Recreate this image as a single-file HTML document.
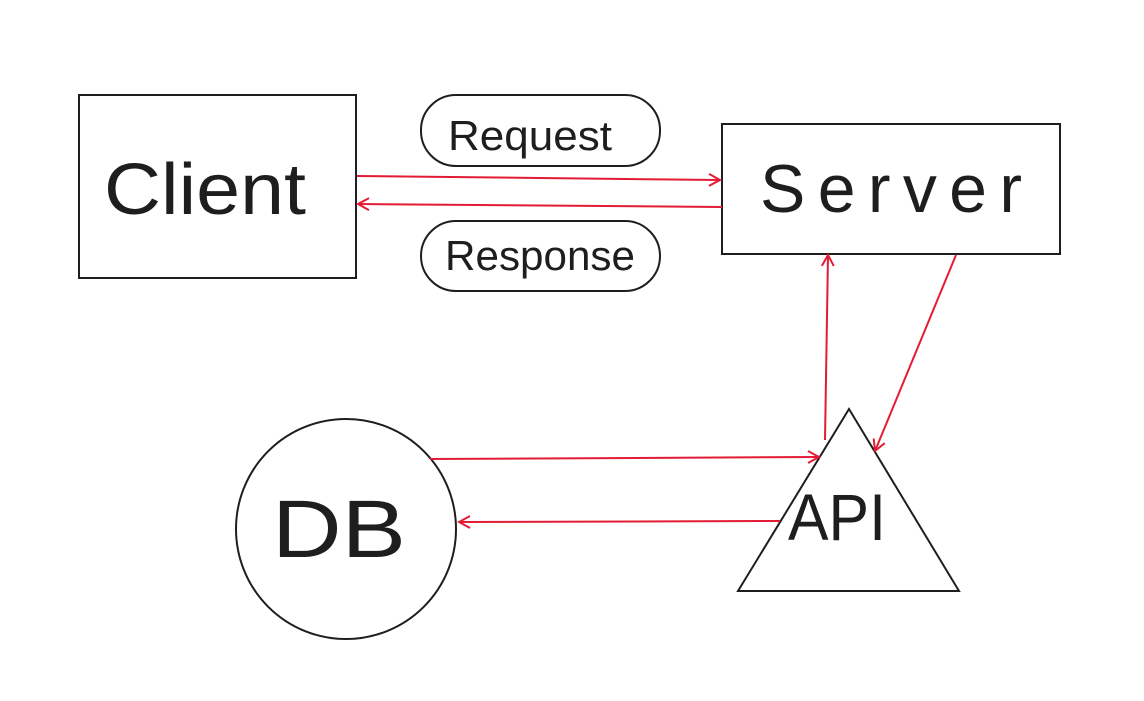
<!DOCTYPE html>
<html><head><style>html,body{margin:0;padding:0;background:#fff}svg{display:block}</style></head>
<body>
<svg width="1144" height="701" viewBox="0 0 1144 701" xmlns="http://www.w3.org/2000/svg">
<defs>
<marker id="a" markerWidth="14" markerHeight="14" refX="12" refY="7" orient="auto" markerUnits="userSpaceOnUse">
<path d="M1,1 L12,7 L1,13" fill="none" stroke="#e41b35" stroke-width="2"/>
</marker>
</defs>
<g fill="none" stroke="#1e1e1e" stroke-width="2">
<rect x="79" y="95" width="277" height="183"/>
<rect x="421" y="95" width="239" height="71" rx="35"/>
<rect x="421" y="221" width="239" height="70" rx="35"/>
<rect x="722" y="124" width="338" height="130"/>
<circle cx="346" cy="529" r="110"/>
<path d="M849,409 L738,591 L959,591 Z"/>
</g>
<g stroke="#e41b35" stroke-width="2" fill="none" marker-end="url(#a)">
<line x1="357" y1="176" x2="720" y2="180"/>
<line x1="722" y1="207" x2="358" y2="204"/>
<line x1="825" y1="440" x2="828" y2="255"/>
<line x1="956" y1="255" x2="875" y2="451"/>
<line x1="430" y1="459" x2="819" y2="457"/>
<line x1="780" y1="521" x2="459" y2="522"/>
</g>
<g font-family="'Liberation Sans',sans-serif" fill="#1e1e1e">
<text x="104" y="214" font-size="72" textLength="202" lengthAdjust="spacingAndGlyphs">Client</text>
<text x="760" y="212" font-size="68" textLength="262" lengthAdjust="spacing">Server</text>
<text x="448" y="150" font-size="42" textLength="164" lengthAdjust="spacingAndGlyphs">Request</text>
<text x="445" y="270" font-size="42" textLength="190" lengthAdjust="spacingAndGlyphs">Response</text>
<text x="272" y="557" font-size="82" textLength="134" lengthAdjust="spacingAndGlyphs">DB</text>
<text x="788" y="540" font-size="66" textLength="98" lengthAdjust="spacingAndGlyphs">API</text>
</g>
</svg>
</body></html>
